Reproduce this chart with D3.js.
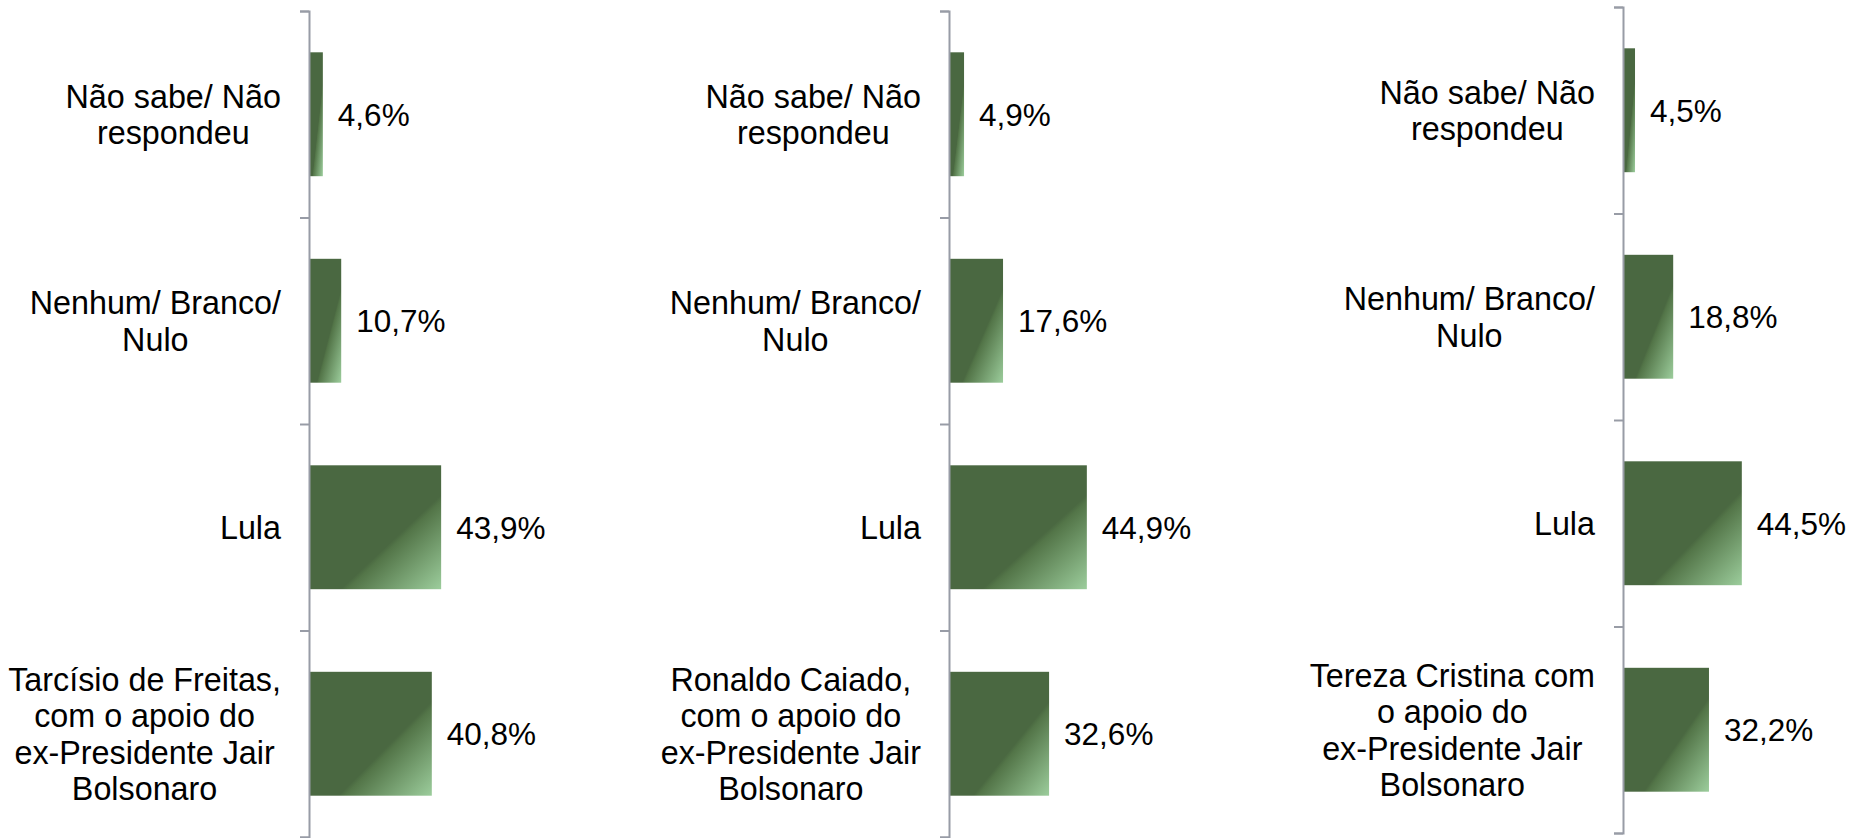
<!DOCTYPE html>
<html><head><meta charset="utf-8">
<script src="https://cdn.jsdelivr.net/npm/d3@7"></script>
<style>html,body{margin:0;padding:0;background:#fff;overflow:hidden;} svg{display:block;}</style>
</head><body>
<svg id="chart" width="1864" height="838"></svg>
<script>
// ---- data ----
const categoriesCommon = ["Não sabe/ Não\nrespondeu", "Nenhum/ Branco/\nNulo", "Lula"];
const candidateLabels = [
  "Tarcísio de Freitas,\ncom o apoio do\nex-Presidente Jair\nBolsonaro",
  "Ronaldo Caiado,\ncom o apoio do\nex-Presidente Jair\nBolsonaro",
  "Tereza Cristina com\no apoio do\nex-Presidente Jair\nBolsonaro"
];
const valuesTarcisio = [4.6, 10.7, 43.9, 40.8];
const valuesCaiado   = [4.9, 17.6, 44.9, 32.6];
const valuesTereza   = [4.5, 18.8, 44.5, 32.2];
const xDomainMax = 50;

// ---- layout ----
const panels = [
  {values: valuesTarcisio, candidate: candidateLabels[0], axisX: 309,  top: 11, bottom: 837, width: 150.5},
  {values: valuesCaiado,   candidate: candidateLabels[1], axisX: 949,  top: 11, bottom: 837, width: 153.5},
  {values: valuesTereza,   candidate: candidateLabels[2], axisX: 1623, top: 7,  bottom: 833, width: 133.5}
];
const catFontSize = 32.3, valFontSize = 31.5, lineH = 36.5, labelGap = 28, valueGap = 15;
const fmt = v => d3.format(".1f")(v).replace(".", ",") + "%";

const svg = d3.select("#chart");
const defs = svg.append("defs");
const grad = defs.append("linearGradient").attr("id", "barGrad")
  .attr("x1", 0).attr("y1", 0).attr("x2", 1).attr("y2", 1);
[[0, "#4a6841"], [0.62, "#4a6841"], [0.645, "#537548"], [1, "#9ccd9c"]].forEach(([o, c]) =>
  grad.append("stop").attr("offset", o).attr("stop-color", c));

panels.forEach(p => {
  const cats = categoriesCommon.concat([p.candidate]);
  const data = cats.map((c, i) => ({cat: c, val: p.values[i]}));
  const y = d3.scaleBand().domain(cats).range([p.top, p.bottom]).paddingInner(0.4).paddingOuter(0.2);
  const x = d3.scaleLinear().domain([0, xDomainMax]).range([p.axisX, p.axisX + p.width]);
  const g = svg.append("g");

  g.selectAll("rect").data(data).join("rect")
    .attr("x", x(0)).attr("y", d => y(d.cat))
    .attr("width", d => x(d.val) - x(0)).attr("height", y.bandwidth())
    .attr("fill", "url(#barGrad)");

  g.selectAll("text.val").data(data).join("text").attr("class", "val")
    .attr("x", d => x(d.val) + valueGap)
    .attr("y", d => y(d.cat) + y.bandwidth() / 2)
    .attr("dy", "0.36em")
    .attr("font-family", "'Liberation Sans', Arial, sans-serif")
    .attr("font-size", valFontSize).attr("fill", "#000")
    .text(d => fmt(d.val));

  const right = p.axisX - labelGap;
  data.forEach(d => {
    const lines = d.cat.split("\n");
    const cy = y(d.cat) + y.bandwidth() / 2;
    const t = g.append("text")
      .attr("font-family", "'Liberation Sans', Arial, sans-serif")
      .attr("font-size", catFontSize).attr("fill", "#000").attr("text-anchor", "middle");
    const spans = lines.map((ln, i) => t.append("tspan")
      .attr("y", cy + (i - (lines.length - 1) / 2) * lineH).attr("dy", "0.36em").text(ln));
    const maxW = d3.max(spans, s => s.node().getComputedTextLength());
    spans.forEach(s => s.attr("x", right - maxW / 2));
  });

  const idx = d3.scaleLinear().domain([0, cats.length]).range([p.top, p.bottom]);
  const axis = d3.axisLeft(idx).tickValues(d3.range(cats.length + 1)).tickFormat("")
    .tickSizeInner(9).tickSizeOuter(9);
  const ag = g.append("g").attr("transform", `translate(${p.axisX},0)`).call(axis);
  ag.selectAll("path, line").attr("stroke", "#989ca6").attr("stroke-width", 2);
});
</script>
</body></html>
